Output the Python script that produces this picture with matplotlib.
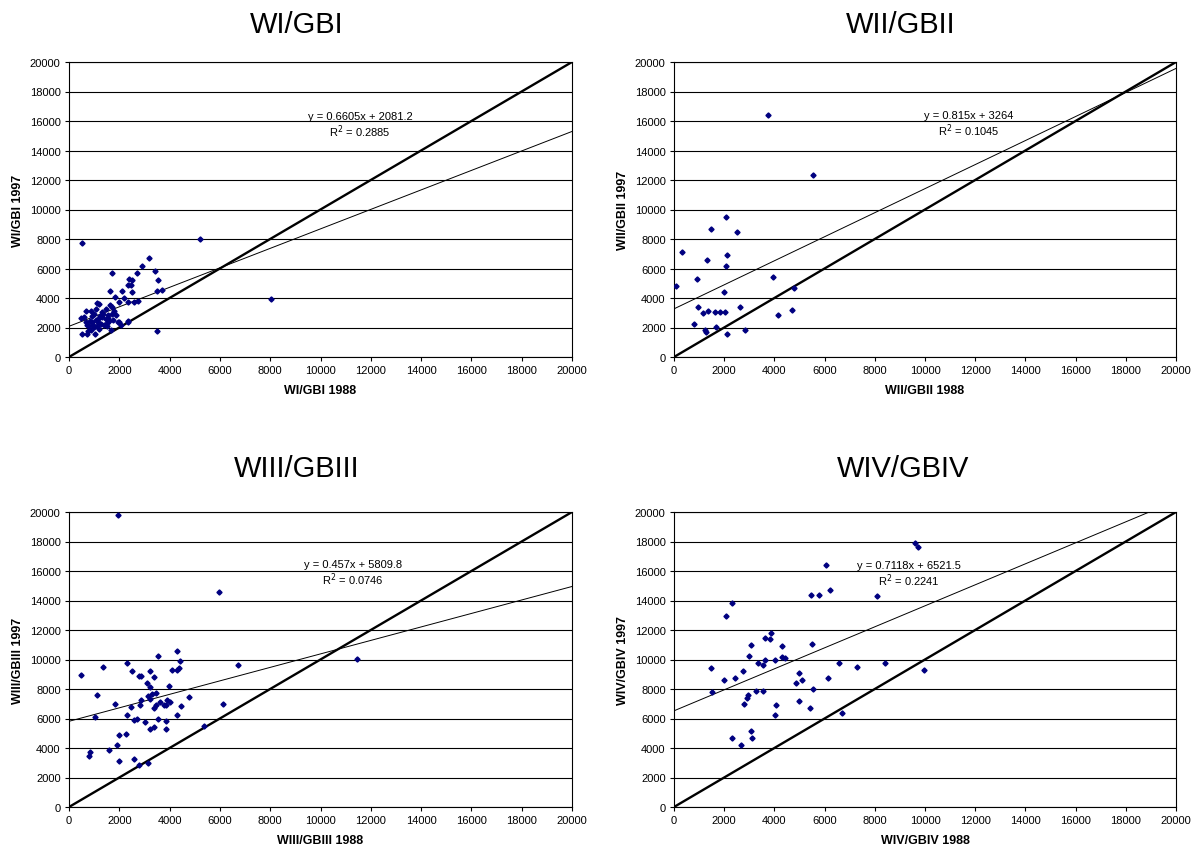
import numpy as np
import matplotlib
matplotlib.use("Agg")
import matplotlib.pyplot as plt

plt.rcParams["font.family"] = ["Liberation Sans", "DejaVu Sans"]

# =====================================================
# DATA
# =====================================================
titles = ["WI/GBI", "WII/GBII", "WIII/GBIII", "WIV/GBIV"]
equations = ["y = 0.6605x + 2081.2", "y = 0.815x + 3264",
             "y = 0.457x + 5809.8", "y = 0.7118x + 6521.5"]
r2_texts = ["0.2885", "0.1045", "0.0746", "0.2241"]
slopes = [0.6605, 0.815, 0.457, 0.7118]
intercepts = [2081.2, 3264, 5809.8, 6521.5]

wi_1988 = [500, 5200, 8050, 3200, 2900, 3430, 1720, 2700, 3550, 2400, 2500, 2330,
           2450, 2500, 2100, 1620, 3500, 3680, 1830, 2200, 2000, 2330, 2600, 2730,
           1100, 1200, 1060, 1640, 1700, 1460, 1800, 690, 860, 1000, 1300, 1570,
           1870, 600, 460, 660, 820, 930, 1060, 1200, 1330, 1460, 1600, 1730, 1260,
           1400, 1530, 800, 1000, 1130, 2000, 2330, 2060, 530, 730, 1040, 890, 3490,
           1200, 1670, 760, 1950, 2330, 900, 1150, 1350, 1500, 700, 1700, 950, 1250,
           1550]
wi_1997 = [7700, 8000, 3910, 6700, 6200, 5800, 5700, 5680, 5200, 5300, 5250, 4880,
           4900, 4400, 4450, 4500, 4450, 4520, 4050, 4000, 3720, 3700, 3750, 3800,
           3650, 3570, 3270, 3550, 3380, 3270, 3150, 3100, 3100, 2930, 3040, 2860,
           2820, 2700, 2630, 2400, 2470, 2360, 2540, 2630, 2700, 2590, 2470, 2540,
           2250, 2180, 2320, 2130, 2020, 2090, 2400, 2470, 2180, 1570, 1570, 1570,
           1860, 1750, 1900, 1800, 1730, 2340, 2340, 2800, 2400, 2900, 2100, 2200,
           2900, 2200, 2750, 2650]

wii_1988 = [3750, 5520, 2070, 1490, 2510, 330, 2130, 1300, 2090, 900, 3950, 90,
            1990, 4800, 960, 2630, 1170, 1370, 1630, 1820, 2030, 4130, 4690, 780,
            1220, 1260, 1660, 2110, 2820]
wii_1997 = [16420, 12340, 9510, 8700, 8450, 7090, 6910, 6570, 6180, 5300, 5440,
            4800, 4420, 4670, 3420, 3380, 2990, 3100, 3060, 3060, 3060, 2880, 3220,
            2240, 1860, 1700, 2060, 1590, 1840]

wiii_1988 = [1950, 5960, 11450, 6720, 4310, 4420, 490, 1350, 3540, 2320, 2490,
             3230, 2780, 2860, 3370, 4080, 4310, 4370, 3090, 3210, 3990, 1110, 1820,
             2480, 2810, 2860, 3140, 3290, 3470, 3210, 3600, 3450, 3390, 3760, 3840,
             3900, 4030, 4760, 4470, 6110, 1050, 2320, 2570, 2690, 3030, 3550, 3870,
             4290, 3210, 3390, 3860, 5350, 1990, 2250, 1910, 1590, 840, 810, 1990,
             2600, 2770, 3130]
wiii_1997 = [19770, 14610, 10030, 9630, 10600, 9920, 8970, 9490, 10240, 9740, 9220,
             9200, 8880, 8880, 8790, 9260, 9290, 9400, 8430, 8150, 8220, 7590, 6950,
             6800, 6930, 7230, 7540, 7630, 7700, 7320, 7140, 6910, 6680, 6910, 6910,
             7250, 7140, 7480, 6820, 6980, 6120, 6230, 5890, 5960, 5780, 5960, 5820,
             6210, 5280, 5440, 5260, 5500, 4850, 4920, 4190, 3870, 3760, 3490, 3100,
             3240, 2850, 2970]

wiv_1988 = [9590, 9710, 6040, 6230, 5470, 5790, 8080, 2330, 2070, 3860, 3630, 3830,
            5500, 3070, 4320, 2980, 4310, 4410, 3630, 4040, 3350, 3540, 6560, 8400,
            1470, 7310, 9980, 2740, 5000, 2450, 6120, 2010, 5100, 4880, 1520, 3250,
            3550, 5550, 2930, 2900, 2770, 4970, 5420, 4070, 4020, 6680, 3070, 2330,
            3100, 2660]
wiv_1997 = [17870, 17600, 16440, 14740, 14380, 14380, 14330, 13840, 12970, 11820,
            11430, 11390, 11070, 11000, 10890, 10270, 10180, 10120, 9980, 9980, 9780,
            9640, 9730, 9780, 9410, 9500, 9320, 9210, 9070, 8760, 8730, 8620, 8620,
            8410, 7800, 7890, 7890, 7980, 7580, 7390, 7010, 7210, 6710, 6900, 6240,
            6370, 5130, 4700, 4700, 4220]

x_data = [wi_1988, wii_1988, wiii_1988, wiv_1988]
y_data = [wi_1997, wii_1997, wiii_1997, wiv_1997]

# =====================================================
# LAYOUT (pixel boxes of the plot areas)
# =====================================================
W, H = 1202, 853
boxes = [(69, 63, 572, 358), (674, 63, 1176, 358),
         (69, 513, 572, 808), (674, 513, 1176, 808)]
title_pos = [(297, 25), (901, 25), (297, 469), (903, 469)]
eq_pos = [(360, 117), (969, 116), (353, 565), (909, 566)]

fig = plt.figure(figsize=(W / 100, H / 100), dpi=100)

for i in range(4):
    l, t, r, b = boxes[i]
    ax = fig.add_axes([l / W, 1 - b / H, (r - l) / W, (b - t) / H])

    # trend line and y = x
    xs = np.array([0, 20000])
    ax.plot(xs, slopes[i] * xs + intercepts[i], color="black", linewidth=0.7, zorder=2)
    ax.plot(xs, xs, color="black", linewidth=1.7, zorder=2)

    ax.plot(x_data[i], y_data[i], linestyle="none", marker="D",
            markersize=2.6, color="#000080", zorder=3)

    ax.set_xlim(0, 20000)
    ax.set_ylim(0, 20000)
    ax.set_xticks(np.arange(0, 20001, 2000))
    ax.set_yticks(np.arange(0, 20001, 2000))
    ax.yaxis.grid(True, color="black", linewidth=0.8)
    ax.set_axisbelow(True)
    ax.tick_params(direction="out", length=3, width=0.8, labelsize=8, pad=3)
    for sp in ax.spines.values():
        sp.set_linewidth(0.8)

    name = titles[i]
    ax.set_xlabel(name + " 1988", fontsize=9, fontweight="bold", labelpad=6)
    ax.set_ylabel(name + " 1997", fontsize=9, fontweight="bold", labelpad=4)

    fig.text(title_pos[i][0] / W, 1 - title_pos[i][1] / H, name,
             fontsize=21, ha="center", va="center")
    fig.text(eq_pos[i][0] / W, 1 - eq_pos[i][1] / H, equations[i],
             fontsize=8, ha="center", va="center")
    fig.text(eq_pos[i][0] / W, 1 - (eq_pos[i][1] + 15) / H,
             "R$^2$ = " + r2_texts[i], fontsize=8, ha="center", va="center")

fig.savefig("out.png", dpi=100)
